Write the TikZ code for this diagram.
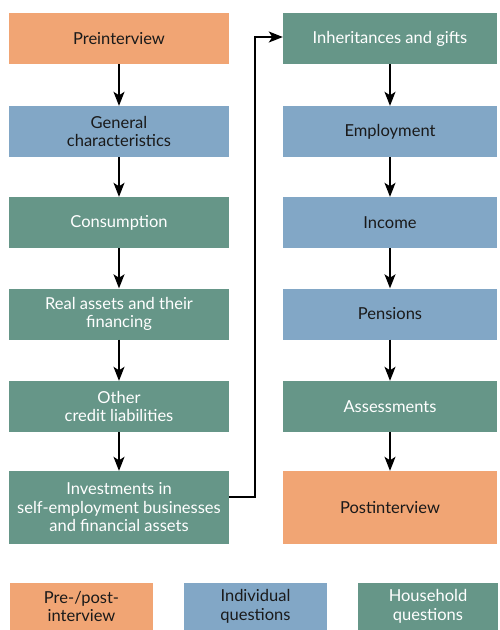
\documentclass[tikz,border=0pt]{standalone}
\usepackage{fontspec}
\setmainfont{Lato}
\usetikzlibrary{arrows.meta,positioning}
\definecolor{cOrange}{HTML}{F1A574}
\definecolor{cBlue}{HTML}{82A7C6}
\definecolor{cGreen}{HTML}{669688}
\definecolor{cText}{HTML}{1A1A1A}
\begin{document}
\begin{tikzpicture}[x=1pt,y=-1pt,
  box/.style={inner sep=0pt,align=center,font=\fontsize{16.5}{18.5}\selectfont},
  pre/.style={box,fill=cOrange,text=cText},
  ind/.style={box,fill=cBlue,text=cText},
  hh/.style={box,fill=cGreen,text=white},
  lw/.style={minimum width=220pt},
  rw/.style={minimum width=214pt},
  sh/.style={minimum height=51pt},
  tl/.style={minimum height=73pt},
  flow/.style={line width=2pt,-{Stealth[length=14pt,width=11pt,inset=3.5pt]}}]
\useasboundingbox (0,0) rectangle (499,630);
% left column
\node[pre,lw,sh] (pre) at (119,38.5) {Preinterview};
\node[ind,lw,sh] (gen) at (119,131.5) {General\\characteristics};
\node[hh,lw,sh] (con) at (119,222.5) {Consumption};
\node[hh,lw,sh] (real) at (119,314) {Real assets and their\\financing};
\node[hh,lw,sh] (oth) at (119,406.5) {Other\\credit liabilities};
\node[hh,lw,tl] (inv) at (119,507.5) {Investments in\\self-employment businesses\\and financial assets};
% right column
\node[hh,rw,sh] (inh) at (390,38.5) {Inheritances and gifts};
\node[ind,rw,sh] (emp) at (390,131.5) {Employment};
\node[ind,rw,sh] (inc) at (390,222.5) {Income};
\node[ind,rw,sh] (pen) at (390,314) {Pensions};
\node[hh,rw,sh] (ass) at (390,406.5) {Assessments};
\node[pre,rw,tl] (post) at (390,507.5) {Postinterview};
% arrows
\draw[flow] (pre) -- (gen);
\draw[flow] (gen) -- (con);
\draw[flow] (con) -- (real);
\draw[flow] (real) -- (oth);
\draw[flow] (oth) -- (inv);
\draw[flow] (inh) -- (emp);
\draw[flow] (emp) -- (inc);
\draw[flow] (inc) -- (pen);
\draw[flow] (pen) -- (ass);
\draw[flow] (ass) -- (post);
\draw[flow] ([yshift=10.5pt]inv.east) -- ++(26,0) |- ([yshift=1.5pt]inh.west);
% legend
\node[pre,minimum width=143pt,minimum height=47pt] (lg1) at (81.5,606.5) {Pre-/post-\\interview};
\node[ind,minimum width=143pt,minimum height=47pt] (lg2) at (255.5,606.5) {Individual\\questions};
\node[hh,minimum width=140pt,minimum height=47pt] (lg3) at (428,606.5) {Household\\questions};
\end{tikzpicture}
\end{document}
